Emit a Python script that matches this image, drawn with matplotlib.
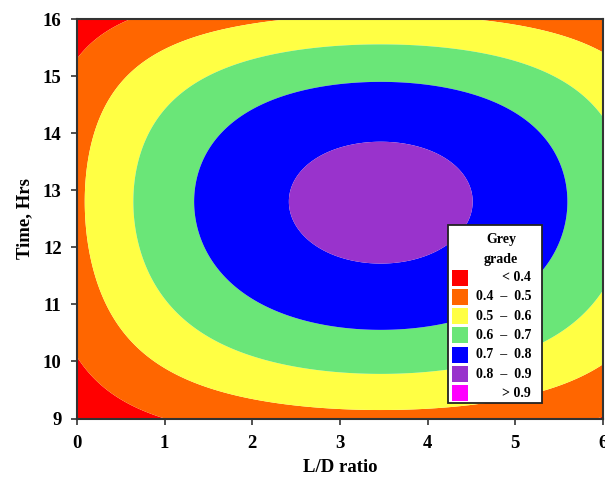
import numpy as np
import matplotlib
matplotlib.use('Agg')
import matplotlib.pyplot as plt
from matplotlib.patches import Rectangle

plt.rcParams['font.family'] = ['Liberation Serif', 'DejaVu Serif']
plt.rcParams['font.weight'] = 'bold'

# grade bands of the contour plot
levels = [-1.0, 0.4, 0.5, 0.6, 0.7, 0.8, 0.9, 2.0]
band_labels = ['< 0.4', '0.4  \u2013  0.5', '0.5  \u2013  0.6', '0.6  \u2013  0.7',
               '0.7  \u2013  0.8', '0.8  \u2013  0.9', '> 0.9']
band_colors = ['#ff0000', '#ff6600', '#ffff44', '#6ae678', '#0000ff', '#9933cc', '#ff00ff']

# response surface, constants estimated from the contour positions
peak_grade = 0.832
ld_center = 3.465
time_center = 12.8
ld_curv = 0.035
time_curv = 0.0338
time_skew = 0.00106
interaction = 1.35

ld_ticks = [0, 1, 2, 3, 4, 5, 6]
time_ticks = [9, 10, 11, 12, 13, 14, 15, 16]

ld = np.linspace(0, 6, 500)
hrs = np.linspace(9, 16, 500)
X, Y = np.meshgrid(ld, hrs)
hx = ld_curv * (X - ld_center) ** 2
dy = Y - time_center
hy = time_curv * dy ** 2 + time_skew * dy ** 3
Z = peak_grade * (1 - hx - hy + interaction * hx * hy)

W, H = 605, 479
fig = plt.figure(figsize=(W / 100, H / 100), dpi=100)
ax = fig.add_axes([77 / W, 1 - 418.5 / H, (603 - 77) / W, (418.5 - 19) / H])
ax.contourf(X, Y, Z, levels=levels, colors=band_colors, antialiased=True)

ax.set_xlim(0, 6)
ax.set_ylim(9, 16)
ax.set_xticks(ld_ticks)
ax.set_yticks(time_ticks)
ax.tick_params(direction='out', length=4, width=1.2, labelsize=13.5, color='#333333')
ax.tick_params(axis='x', pad=8)
ax.tick_params(axis='y', pad=7)
for s in ax.spines.values():
    s.set_linewidth(1.5)
    s.set_color('#333333')
ax.set_xlabel('L/D ratio', fontsize=13.5, fontweight='bold', labelpad=5)
ax.set_ylabel('Time, Hrs', fontsize=13.5, fontweight='bold', labelpad=7)

# legend box drawn in pixel coordinates
def fx(px):
    return px / W

def fy(py):
    return 1 - py / H

fig.patches.append(Rectangle((fx(448), fy(403)), fx(542) - fx(448), fy(225) - fy(403),
                             transform=fig.transFigure, facecolor='white',
                             edgecolor='#222222', linewidth=1.3, zorder=5))
fig.text(fx(501), fy(239), 'Grey', ha='center', va='center', fontsize=10, zorder=6)
fig.text(fx(501), fy(259), 'grade', ha='center', va='center', fontsize=10, zorder=6)
row_y = 277.5
for lab, col in zip(band_labels, band_colors):
    fig.patches.append(Rectangle((fx(452), fy(row_y + 8)), fx(16), fy(0) - fy(16),
                                 transform=fig.transFigure, facecolor=col,
                                 edgecolor='none', zorder=6))
    fig.text(fx(531), fy(row_y), lab, ha='right', va='center', fontsize=10, zorder=6)
    row_y += 19.3

fig.savefig('out.png', dpi=100)
